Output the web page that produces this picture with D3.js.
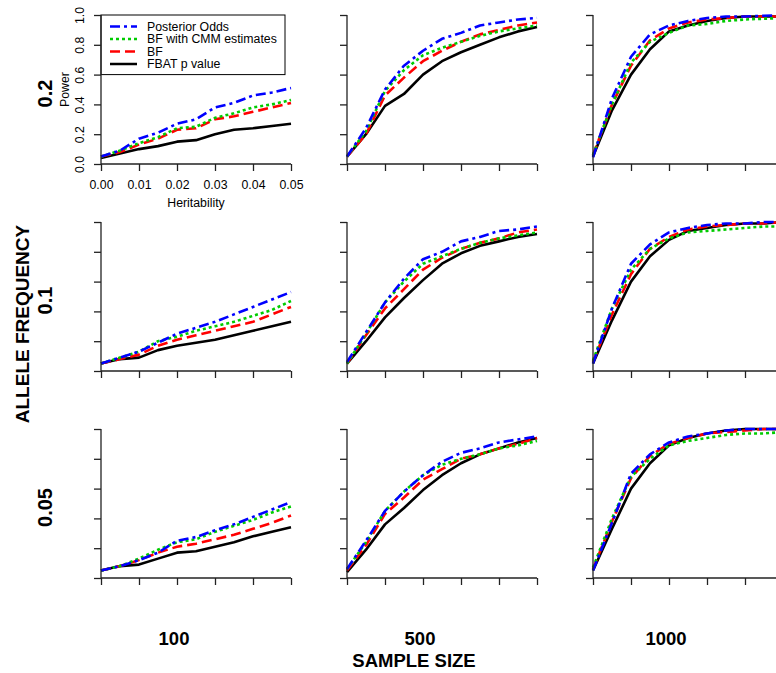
<!DOCTYPE html>
<html>
<head>
<meta charset="utf-8">
<script src="https://cdn.jsdelivr.net/npm/d3@7"></script>
<style>
  html, body { margin: 0; padding: 0; background: #fff; }
  svg { display: block; font-family: "Liberation Sans", Arial, sans-serif; }
</style>
</head>
<body>
<svg id="chart" width="776" height="673"></svg>
<script>
// ---------------- DATA ----------------
const heritability = [0, 0.005, 0.01, 0.015, 0.02, 0.025, 0.03, 0.035, 0.04, 0.045, 0.05];
const alleleFreqs = ["0.2", "0.1", "0.05"];
const sampleSizes = ["100", "500", "1000"];
const methods = ["Posterior Odds", "BF with CMM estimates", "BF", "FBAT p value"];
const xTicks = [0, 0.01, 0.02, 0.03, 0.04, 0.05];
const yTicks = [0, 0.2, 0.4, 0.6, 0.8, 1.0];

// allele frequency 0.2
const af02_n100_PO   = [0.05, 0.09, 0.17, 0.21, 0.27, 0.30, 0.38, 0.41, 0.46, 0.48, 0.51];
const af02_n100_CMM  = [0.05, 0.09, 0.14, 0.18, 0.24, 0.25, 0.31, 0.34, 0.38, 0.40, 0.43];
const af02_n100_BF   = [0.05, 0.08, 0.13, 0.17, 0.23, 0.24, 0.30, 0.32, 0.35, 0.38, 0.41];
const af02_n100_FBAT = [0.04, 0.07, 0.10, 0.12, 0.15, 0.16, 0.20, 0.23, 0.24, 0.255, 0.27];

const af02_n500_PO   = [0.05, 0.24, 0.50, 0.66, 0.76, 0.84, 0.88, 0.93, 0.95, 0.97, 0.98];
const af02_n500_CMM  = [0.05, 0.22, 0.49, 0.63, 0.73, 0.78, 0.82, 0.86, 0.89, 0.91, 0.93];
const af02_n500_BF   = [0.05, 0.20, 0.46, 0.58, 0.69, 0.76, 0.82, 0.87, 0.90, 0.93, 0.95];
const af02_n500_FBAT = [0.05, 0.20, 0.39, 0.47, 0.60, 0.69, 0.75, 0.80, 0.85, 0.89, 0.92];

const af02_n1000_PO   = [0.045, 0.44, 0.72, 0.87, 0.93, 0.96, 0.98, 0.99, 0.99, 0.995, 1.0];
const af02_n1000_CMM  = [0.06, 0.40, 0.68, 0.82, 0.88, 0.93, 0.94, 0.96, 0.97, 0.975, 0.98];
const af02_n1000_BF   = [0.06, 0.40, 0.66, 0.83, 0.91, 0.95, 0.97, 0.98, 0.99, 0.99, 0.99];
const af02_n1000_FBAT = [0.05, 0.36, 0.60, 0.77, 0.89, 0.93, 0.96, 0.98, 0.99, 0.99, 0.99];

// allele frequency 0.1
const af01_n100_PO   = [0.05, 0.09, 0.13, 0.19, 0.25, 0.29, 0.33, 0.38, 0.43, 0.48, 0.53];
const af01_n100_CMM  = [0.05, 0.09, 0.13, 0.20, 0.23, 0.27, 0.30, 0.33, 0.37, 0.41, 0.47];
const af01_n100_BF   = [0.05, 0.08, 0.11, 0.17, 0.21, 0.24, 0.27, 0.30, 0.33, 0.38, 0.43];
const af01_n100_FBAT = [0.05, 0.08, 0.09, 0.14, 0.17, 0.19, 0.21, 0.24, 0.27, 0.30, 0.33];

const af01_n500_PO   = [0.06, 0.26, 0.46, 0.62, 0.75, 0.80, 0.87, 0.90, 0.94, 0.95, 0.97];
const af01_n500_CMM  = [0.05, 0.25, 0.46, 0.60, 0.72, 0.77, 0.82, 0.86, 0.89, 0.91, 0.93];
const af01_n500_BF   = [0.05, 0.24, 0.42, 0.55, 0.68, 0.76, 0.82, 0.86, 0.89, 0.93, 0.95];
const af01_n500_FBAT = [0.05, 0.20, 0.36, 0.49, 0.61, 0.72, 0.79, 0.84, 0.87, 0.90, 0.92];

const af01_n1000_PO   = [0.05, 0.42, 0.72, 0.85, 0.93, 0.96, 0.98, 0.99, 0.99, 1.0, 1.0];
const af01_n1000_CMM  = [0.07, 0.42, 0.68, 0.82, 0.89, 0.93, 0.94, 0.95, 0.96, 0.97, 0.97];
const af01_n1000_BF   = [0.06, 0.38, 0.65, 0.82, 0.90, 0.95, 0.97, 0.98, 0.99, 0.99, 1.0];
const af01_n1000_FBAT = [0.05, 0.34, 0.60, 0.77, 0.88, 0.94, 0.96, 0.98, 0.99, 0.99, 1.0];

// allele frequency 0.05
const af005_n100_PO   = [0.05, 0.08, 0.12, 0.17, 0.25, 0.275, 0.32, 0.36, 0.41, 0.46, 0.51];
const af005_n100_CMM  = [0.05, 0.08, 0.13, 0.19, 0.24, 0.26, 0.31, 0.35, 0.39, 0.44, 0.48];
const af005_n100_BF   = [0.05, 0.08, 0.12, 0.17, 0.21, 0.23, 0.26, 0.29, 0.33, 0.37, 0.42];
const af005_n100_FBAT = [0.05, 0.08, 0.09, 0.13, 0.17, 0.18, 0.21, 0.24, 0.28, 0.31, 0.34];

const af005_n500_PO   = [0.06, 0.25, 0.45, 0.58, 0.69, 0.78, 0.84, 0.87, 0.91, 0.93, 0.95];
const af005_n500_CMM  = [0.06, 0.24, 0.45, 0.58, 0.69, 0.76, 0.80, 0.83, 0.87, 0.89, 0.92];
const af005_n500_BF   = [0.05, 0.22, 0.43, 0.54, 0.66, 0.73, 0.80, 0.83, 0.87, 0.90, 0.94];
const af005_n500_FBAT = [0.04, 0.19, 0.36, 0.47, 0.59, 0.69, 0.77, 0.83, 0.87, 0.91, 0.94];

const af005_n1000_PO   = [0.05, 0.37, 0.70, 0.83, 0.91, 0.95, 0.97, 0.99, 1.0, 1.0, 1.0];
const af005_n1000_CMM  = [0.07, 0.40, 0.68, 0.80, 0.89, 0.92, 0.94, 0.96, 0.97, 0.97, 0.98];
const af005_n1000_BF   = [0.06, 0.38, 0.67, 0.82, 0.90, 0.94, 0.97, 0.98, 0.99, 1.0, 1.0];
const af005_n1000_FBAT = [0.05, 0.33, 0.60, 0.77, 0.89, 0.94, 0.97, 0.99, 1.0, 1.0, 1.0];

const panels = [
  [[af02_n100_PO, af02_n100_CMM, af02_n100_BF, af02_n100_FBAT],
   [af02_n500_PO, af02_n500_CMM, af02_n500_BF, af02_n500_FBAT],
   [af02_n1000_PO, af02_n1000_CMM, af02_n1000_BF, af02_n1000_FBAT]],
  [[af01_n100_PO, af01_n100_CMM, af01_n100_BF, af01_n100_FBAT],
   [af01_n500_PO, af01_n500_CMM, af01_n500_BF, af01_n500_FBAT],
   [af01_n1000_PO, af01_n1000_CMM, af01_n1000_BF, af01_n1000_FBAT]],
  [[af005_n100_PO, af005_n100_CMM, af005_n100_BF, af005_n100_FBAT],
   [af005_n500_PO, af005_n500_CMM, af005_n500_BF, af005_n500_FBAT],
   [af005_n1000_PO, af005_n1000_CMM, af005_n1000_BF, af005_n1000_FBAT]]
];

// ---------------- STYLE ----------------
const colors = ["#0000ff", "#00cc00", "#ff0000", "#000000"];
const dashes = ["10,4,3,4", "3,3", "10,5", null];
const drawOrder = [3, 2, 1, 0];

const colLeft = [101, 347, 593];
const rowTop = [15, 222, 429];
const pw = 190, ph = 149;

const svg = d3.select("#chart");

rowTop.forEach((top, r) => {
  colLeft.forEach((left, c) => {
    const x = d3.scaleLinear().domain([0, 0.05]).range([left, left + pw]);
    const y = d3.scaleLinear().domain([0, 1]).range([top + ph, top]);
    const g = svg.append("g");
    const showLabels = (r === 0 && c === 0);

    // legend (top-left panel only), drawn first
    if (showLabels) {
      const lg = g.append("g");
      lg.append("rect")
        .attr("x", x(0)).attr("y", y(1))
        .attr("width", 184).attr("height", y(0.6) - y(1))
        .attr("fill", "#fff").attr("stroke", "#000").attr("stroke-width", 1);
      methods.forEach((m, i) => {
        const yy = y(1) + 11.5 + i * 12.5;
        lg.append("line")
          .attr("x1", x(0) + 9).attr("x2", x(0) + 36)
          .attr("y1", yy).attr("y2", yy)
          .attr("stroke", colors[i]).attr("stroke-width", 2.5)
          .attr("stroke-dasharray", dashes[i]);
        lg.append("text")
          .attr("x", x(0) + 46).attr("y", yy)
          .attr("dy", "0.35em")
          .attr("font-size", 12.3).attr("fill", "#000")
          .text(m);
      });
    }

    // series lines
    const line = d3.line()
      .x((d, i) => x(heritability[i]))
      .y(d => y(d));
    drawOrder.forEach(k => {
      g.append("path")
        .datum(panels[r][c][k])
        .attr("d", line)
        .attr("fill", "none")
        .attr("stroke", colors[k])
        .attr("stroke-width", 2.6)
        .attr("stroke-dasharray", dashes[k])
        .attr("stroke-linejoin", "round");
    });

    // axes
    const xAxis = d3.axisBottom(x).tickValues(xTicks).tickSize(7).tickPadding(9)
      .tickFormat(showLabels ? d3.format(".2f") : () => "");
    const yAxis = d3.axisLeft(y).tickValues(yTicks).tickSize(7).tickPadding(4)
      .tickFormat(showLabels ? d3.format(".1f") : () => "");
    const gx = g.append("g").attr("transform", `translate(0,${y(0)})`).call(xAxis);
    const gy = g.append("g").attr("transform", `translate(${x(0)},0)`).call(yAxis);
    [gx, gy].forEach(a => {
      a.selectAll("path").attr("stroke", "#222").attr("stroke-width", 1.3);
      a.selectAll("line").attr("stroke", "#222").attr("stroke-width", 1.3);
      a.selectAll("text").attr("font-size", 12.3).attr("fill", "#000")
        .attr("font-family", "Liberation Sans, Arial, sans-serif");
    });
    gx.select(".domain").attr("d", `M${x(0)},0H${x(0.05)}`);
    gy.select(".domain").attr("d", `M0,${y(0)}V${y(1)}`);
    // rotated y tick labels (R style)
    gy.selectAll(".tick text")
      .attr("text-anchor", "middle")
      .attr("x", 0).attr("dy", 0)
      .attr("transform", "translate(-21,0) rotate(-90)")
      .attr("dominant-baseline", "central");

    if (showLabels) {
      g.append("text")
        .attr("x", (x(0) + x(0.05)) / 2).attr("y", y(0) + 43)
        .attr("text-anchor", "middle").attr("font-size", 12.3)
        .text("Heritability");
      g.append("text")
        .attr("transform", `translate(${x(0) - 32},${(y(0) + y(1)) / 2}) rotate(-90)`)
        .attr("text-anchor", "middle").attr("font-size", 12.3)
        .text("Power");
    }
  });

  // row label (allele frequency)
  svg.append("text")
    .attr("transform", `translate(45,${rowTop[r] + ph / 2 + 4}) rotate(-90)`)
    .attr("text-anchor", "middle").attr("dominant-baseline", "central")
    .attr("font-size", 20).attr("font-weight", "bold")
    .text(alleleFreqs[r]);
});

// column labels (sample size)
colLeft.forEach((left, c) => {
  svg.append("text")
    .attr("x", left + 73).attr("y", 645)
    .attr("text-anchor", "middle")
    .attr("font-size", 18.5).attr("font-weight", "bold")
    .text(sampleSizes[c]);
});

svg.append("text")
  .attr("x", 414).attr("y", 667)
  .attr("text-anchor", "middle")
  .attr("font-size", 18.5).attr("font-weight", "bold")
  .text("SAMPLE SIZE");

svg.append("text")
  .attr("transform", "translate(22,324) rotate(-90)")
  .attr("text-anchor", "middle").attr("dominant-baseline", "central")
  .attr("font-size", 19).attr("font-weight", "bold")
  .text("ALLELE FREQUENCY");
</script>
</body>
</html>
